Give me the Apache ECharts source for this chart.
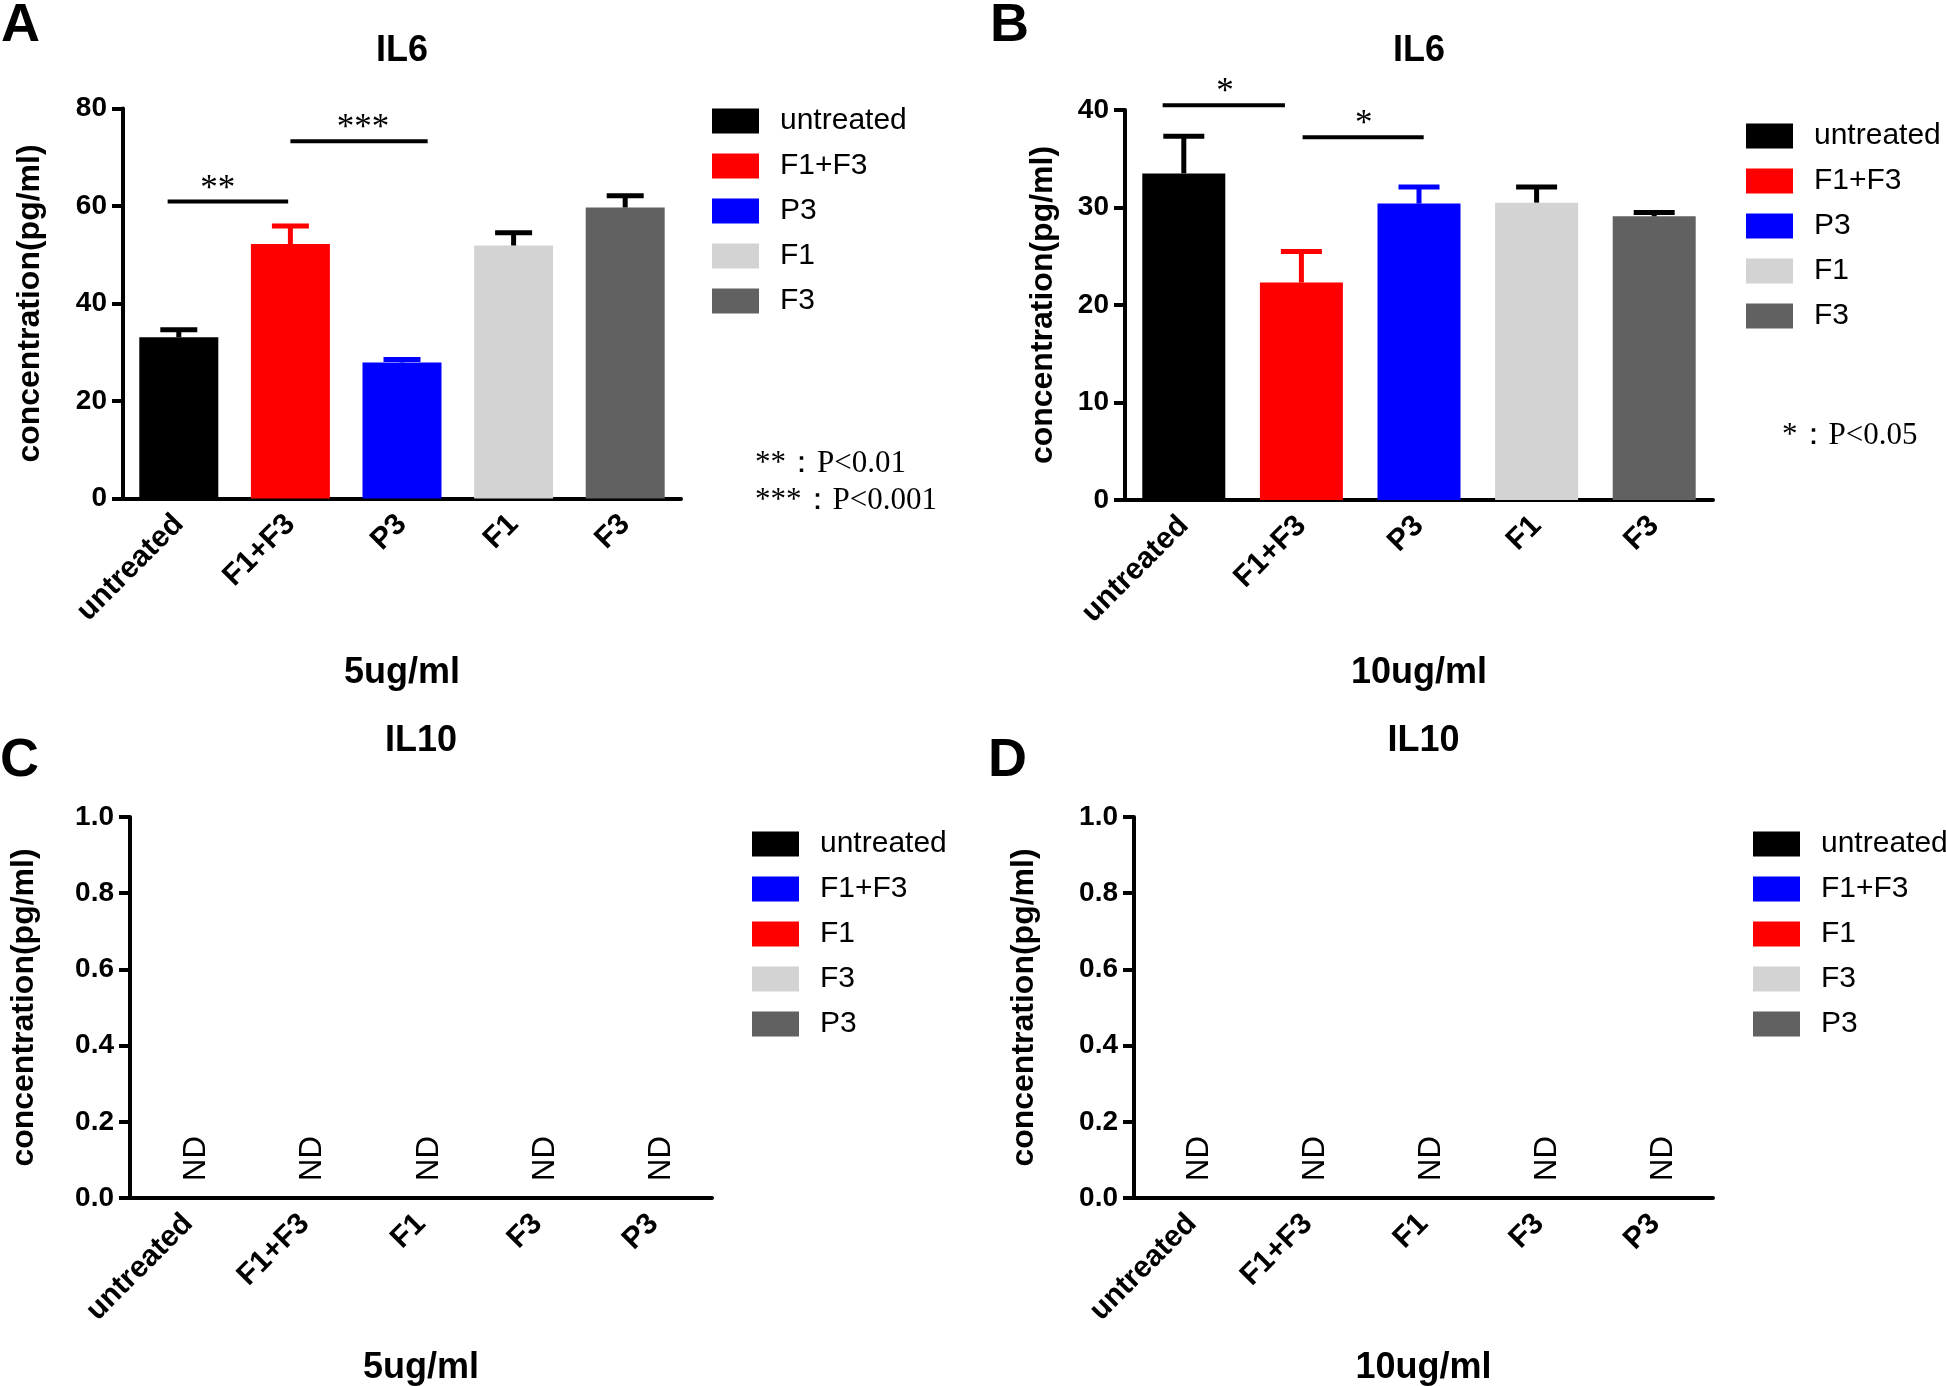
<!DOCTYPE html>
<html><head><meta charset="utf-8">
<script src="https://cdn.jsdelivr.net/npm/echarts@6/dist/echarts.min.js"></script>
<style>html,body{margin:0;padding:0;background:#fff}#c{width:1946px;height:1386px}</style>
</head><body><div id="c"></div>
<script>
// ---------- data ----------
const il6Categories = ['untreated', 'F1+F3', 'P3', 'F1', 'F3'];
const il10Categories = ['untreated', 'F1+F3', 'F1', 'F3', 'P3'];
const il6Mean5 = [33.1, 52.2, 27.9, 51.9, 59.7];
const il6Err5 = [1.5, 3.7, 0.6, 2.6, 2.4];
const il6Mean10 = [33.5, 22.3, 30.4, 30.5, 29.1];
const il6Err10 = [3.8, 3.2, 1.7, 1.6, 0.4];
const il10Mean5 = [0, 0, 0, 0, 0];   // not detected (ND)
const il10Mean10 = [0, 0, 0, 0, 0];  // not detected (ND)
const il6Colors = ['#000000', '#ff0000', '#0000ff', '#d3d3d3', '#616161'];
const il6ErrColors = ['#000000', '#ff0000', '#0000ff', '#000000', '#000000'];
const il10Colors = ['#000000', '#0000ff', '#ff0000', '#d3d3d3', '#616161'];
const sigFrom5 = [-0.10, 1.0];
const sigTo5 = [0.98, 2.23];
const sigY5 = [60.9, 73.3];
const sigStarX5 = [0.35, 1.65];
const sigText5 = ['**', '***'];
const sigFrom10 = [-0.18, 1.01];
const sigTo10 = [0.86, 2.04];
const sigY10 = [40.5, 37.2];
const sigStarX10 = [0.35, 1.53];
const sigText10 = ['*', '*'];
const yTicksIL6_5 = [0, 80, 20];
const yTicksIL6_10 = [0, 40, 10];
const yTicksIL10 = [0, 1, 0.2];

// ---------- layout ----------
const panels = [
  {grid: {left: 123, top: 108.5, width: 558, height: 390}, cats: il6Categories, mean: il6Mean5, err: il6Err5,
   colors: il6Colors, errColors: il6ErrColors, yt: yTicksIL6_5, sig: [sigFrom5, sigTo5, sigY5, sigStarX5, sigText5],
   barW: 79, cap: 37, nameGap: 77, legend: {left: 712, top: 106}, nd: false, dec: 0},
  {grid: {left: 1125, top: 110, width: 588, height: 390}, cats: il6Categories, mean: il6Mean10, err: il6Err10,
   colors: il6Colors, errColors: il6ErrColors, yt: yTicksIL6_10, sig: [sigFrom10, sigTo10, sigY10, sigStarX10, sigText10],
   barW: 83, cap: 41, nameGap: 66, legend: {left: 1746, top: 121}, nd: false, dec: 0},
  {grid: {left: 130, top: 817, width: 582, height: 381}, cats: il10Categories, mean: il10Mean5, err: null,
   colors: il10Colors, errColors: null, yt: yTicksIL10, sig: null,
   barW: 79, cap: 37, nameGap: 90, legend: {left: 752, top: 829}, nd: true, dec: 1},
  {grid: {left: 1134, top: 817, width: 579, height: 381}, cats: il10Categories, mean: il10Mean10, err: null,
   colors: il10Colors, errColors: null, yt: yTicksIL10, sig: null,
   barW: 79, cap: 37, nameGap: 94, legend: {left: 1753, top: 829}, nd: true, dec: 1}
];

const SANS = 'Liberation Sans';
const SERIF = 'Liberation Serif';

const grid = [], xAxis = [], yAxis = [], series = [], legend = [];
panels.forEach((p, g) => {
  grid.push(Object.assign({containLabel: false, outerBoundsMode: 'none'}, p.grid));
  xAxis.push({
    type: 'category', gridIndex: g, data: p.cats,
    axisLine: {onZero: false, lineStyle: {color: '#000', width: 4}},
    axisTick: {alignWithLabel: true, length: 10, lineStyle: {color: '#000', width: 4}},
    axisLabel: {rotate: 45, interval: 0, margin: 21, align: 'right', verticalAlign: 'middle',
      fontFamily: SANS, fontWeight: 'bold', fontSize: 30, color: '#000'},
    splitLine: {show: false}
  });
  xAxis.push({type: 'value', gridIndex: g, min: -0.5, max: 4.5, show: false});
  yAxis.push({
    type: 'value', gridIndex: g, min: p.yt[0], max: p.yt[1], interval: p.yt[2],
    axisLine: {show: true, onZero: false, lineStyle: {color: '#000', width: 4}},
    axisTick: {show: true, length: 11, lineStyle: {color: '#000', width: 4}},
    splitLine: {show: false},
    axisLabel: {margin: 16, fontFamily: SANS, fontWeight: 'bold', fontSize: 28, color: '#000',
      formatter: v => v.toFixed(p.dec)},
    name: 'concentration(pg/ml)', nameLocation: 'middle', nameGap: p.nameGap,
    nameTextStyle: {fontFamily: SANS, fontWeight: 'bold', fontSize: 32, color: '#000'}
  });
  p.cats.forEach((c, i) => {
    const s = {
      type: 'bar', name: c, xAxisIndex: 2 * g, yAxisIndex: g,
      data: p.cats.map((_, j) => (j === i ? p.mean[j] : null)),
      barWidth: p.barW, barGap: '-100%', itemStyle: {color: p.colors[i]}, silent: true
    };
    if (p.nd) {
      s.label = {show: true, formatter: 'ND', position: 'top', rotate: 90, align: 'left',
        verticalAlign: 'middle', distance: 16, offset: [1, 8], fontFamily: SANS, fontSize: 31, color: '#000'};
    }
    series.push(s);
  });
  if (p.err) {
    const ec = p.errColors, cap = p.cap;
    series.push({
      type: 'custom', xAxisIndex: 2 * g + 1, yAxisIndex: g, z: 5, silent: true,
      data: p.mean.map((m, i) => [i, m, m + p.err[i]]),
      renderItem: (params, api) => {
        const i = api.value(0);
        const a = api.coord([i, api.value(1)]);
        const b = api.coord([i, api.value(2)]);
        const col = ec[params.dataIndex];
        return {type: 'group', children: [
          {type: 'line', shape: {x1: a[0], y1: a[1], x2: b[0], y2: b[1]}, style: {stroke: col, lineWidth: 5}},
          {type: 'line', shape: {x1: b[0] - cap / 2, y1: b[1], x2: b[0] + cap / 2, y2: b[1]}, style: {stroke: col, lineWidth: 5}}
        ]};
      }
    });
  }
  if (p.sig) {
    const [fr, to, yy, sx, tx] = p.sig;
    series.push({
      type: 'custom', xAxisIndex: 2 * g + 1, yAxisIndex: g, z: 5, silent: true, clip: false,
      data: fr.map((f, i) => [f, to[i], yy[i], sx[i]]),
      renderItem: (params, api) => {
        const a = api.coord([api.value(0), api.value(2)]);
        const b = api.coord([api.value(1), api.value(2)]);
        const s = api.coord([api.value(3), api.value(2)]);
        return {type: 'group', children: [
          {type: 'line', shape: {x1: a[0], y1: a[1], x2: b[0], y2: b[1]}, style: {stroke: '#000', lineWidth: 4}},
          {type: 'text', x: s[0], y: a[1] - 12, style: {text: tx[params.dataIndex], align: 'center',
            verticalAlign: 'middle', fontFamily: SERIF, fontSize: 35, fill: '#000'}}
        ]};
      }
    });
  }
  legend.push({
    orient: 'vertical', left: p.legend.left, top: p.legend.top, padding: 0,
    itemWidth: 47, itemHeight: 25, itemGap: 15, icon: 'rect', selectedMode: false,
    textStyle: {fontFamily: SANS, fontSize: 30, color: '#000', padding: [0, 0, 0, 16]},
    data: p.cats.map((c, i) => ({name: c, icon: 'rect', itemStyle: {color: p.colors[i]}}))
  });
});

const txt = (x, y, text, size, opts) => ({type: 'text', x, y, silent: true,
  style: Object.assign({text, fontSize: size, fontFamily: SANS, fontWeight: 'bold', fill: '#000',
    align: 'center', verticalAlign: 'middle'}, opts || {})});
const gc = i => panels[i].grid.left + panels[i].grid.width / 2;

const graphic = [
  txt(1, 26, 'A', 54, {align: 'left'}),
  txt(990, 26, 'B', 54, {align: 'left'}),
  txt(0, 761, 'C', 54, {align: 'left'}),
  txt(988, 761, 'D', 54, {align: 'left'}),
  txt(gc(0), 51, 'IL6', 36),
  txt(gc(1), 51, 'IL6', 36),
  txt(gc(2), 741, 'IL10', 36),
  txt(gc(3), 741, 'IL10', 36),
  txt(gc(0), 673, '5ug/ml', 36),
  txt(gc(1), 673, '10ug/ml', 36),
  txt(gc(2), 1368, '5ug/ml', 36),
  txt(gc(3), 1368, '10ug/ml', 36),
  txt(755, 464, '**：P<0.01', 31, {align: 'left', fontWeight: 'normal', fontFamily: SERIF}),
  txt(755, 501, '***：P<0.001', 31, {align: 'left', fontWeight: 'normal', fontFamily: SERIF}),
  txt(1782, 436, '*：P<0.05', 31, {align: 'left', fontWeight: 'normal', fontFamily: SERIF})
];

const chart = echarts.init(document.getElementById('c'), null, {renderer: 'canvas'});
chart.setOption({
  backgroundColor: '#fff', animation: false,
  grid, xAxis, yAxis, series, legend, graphic
});
</script></body></html>
